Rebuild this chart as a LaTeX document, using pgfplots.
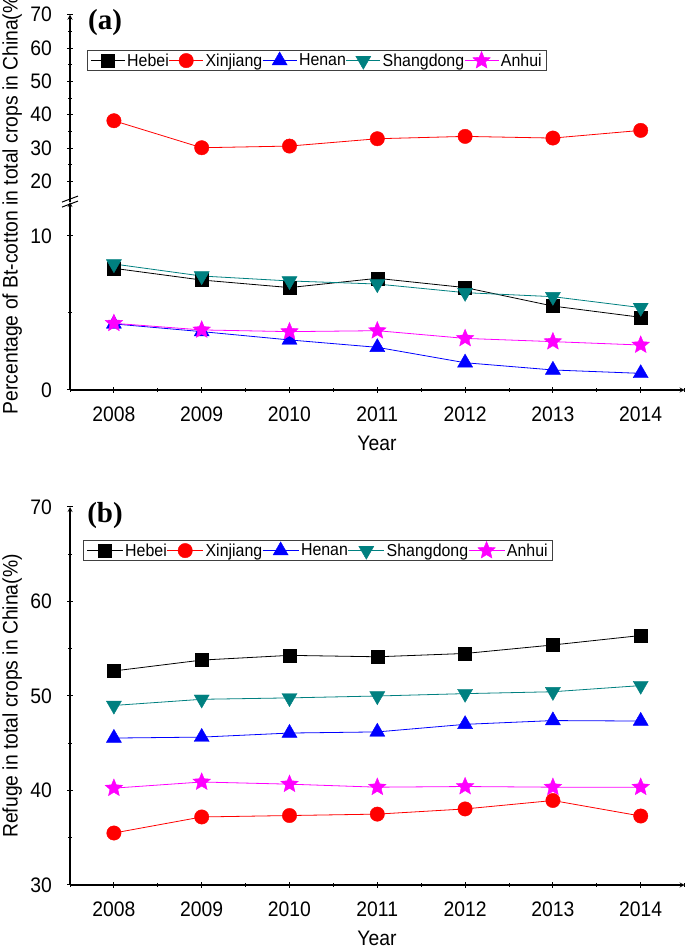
\documentclass[border=0pt]{standalone}
\usepackage{fontspec}
\setmainfont{Liberation Sans}[FakeStretch=0.92]
\newfontfamily\serifbf{Liberation Serif}
\usepackage{pgfplots}
\pgfplotsset{compat=1.18}
\definecolor{tealc}{RGB}{0,128,128}
\definecolor{magc}{RGB}{255,0,255}
\pgfdeclareplotmark{fstar}{%
 \pgfpathmoveto{\pgfpointpolar{90}{\pgfplotmarksize}}%
 \pgfpathlineto{\pgfpointpolar{126}{0.45\pgfplotmarksize}}%
 \pgfpathlineto{\pgfpointpolar{162}{\pgfplotmarksize}}%
 \pgfpathlineto{\pgfpointpolar{198}{0.45\pgfplotmarksize}}%
 \pgfpathlineto{\pgfpointpolar{234}{\pgfplotmarksize}}%
 \pgfpathlineto{\pgfpointpolar{270}{0.45\pgfplotmarksize}}%
 \pgfpathlineto{\pgfpointpolar{306}{\pgfplotmarksize}}%
 \pgfpathlineto{\pgfpointpolar{342}{0.45\pgfplotmarksize}}%
 \pgfpathlineto{\pgfpointpolar{18}{\pgfplotmarksize}}%
 \pgfpathlineto{\pgfpointpolar{54}{0.45\pgfplotmarksize}}%
 \pgfpathclose
 \pgfusepathqfillstroke
}
\pgfplotsset{
 sHebei/.style={black, line width=0.8bp, mark=square*, mark size=6.5bp, mark options={solid, fill=black, line width=0.4bp}},
 sXin/.style={red, line width=0.8bp, mark=*, mark size=7.2bp, mark options={solid, fill=red, line width=0.4bp}},
 sHenan/.style={blue, line width=0.8bp, mark=triangle*, mark size=8.7bp, mark options={solid, fill=blue, line width=0.4bp}},
 sShan/.style={tealc, line width=0.8bp, mark=triangle*, mark size=8.7bp, mark options={solid, fill=tealc, rotate=180, line width=0.4bp}},
 sAnh/.style={magc, line width=0.8bp, mark=fstar, mark size=9.2bp, mark options={solid, fill=magc, line width=0.4bp}},
 base/.style={
  scale only axis, width=614.6bp, xmin=2007.5, xmax=2014.5,
  tick align=outside, major tick length=6bp, minor tick length=3.5bp,
  every tick/.append style={black, line width=1bp},
  axis line style={black, line width=1.2bp, -},
  /pgf/number format/assume math mode=true,
  /pgf/number format/1000 sep={},
  tick label style={font=\fontsize{21bp}{24bp}\selectfont, black},
  yticklabel style={anchor=east, inner sep=0pt, xshift=-15bp},
  xticklabel style={anchor=base, inner sep=0pt, yshift=-29bp},
  xtick={2008,...,2014},
  minor xtick={2007.5,2008.5,...,2014.5},
  legend columns=-1,
  legend style={anchor=north west, draw=black!75, line width=0.8bp, fill=white,
    inner xsep=3bp, inner ysep=1bp, font=\fontsize{17.3bp}{19bp}\selectfont,
    nodes={inner xsep=2bp, inner ysep=0.8bp},
    /tikz/every even column/.style={column sep=-2bp}},
  legend image code/.code={\draw[mark repeat=2,mark phase=2,#1] plot coordinates {(0bp,0bp) (17bp,0bp) (34bp,0bp)};},
 },
}
\begin{document}
\begin{tikzpicture}[x=1bp,y=1bp]
\useasboundingbox (0bp,0bp) rectangle (685bp,947bp);
% ---------- panel (a), lower part ----------
\begin{axis}[base, at={(70bp,557bp)}, anchor=south west, height=187.9bp,
  axis x line=bottom, axis y line=left,
  ymin=0, ymax=12.2, ytick={0,10}, minor ytick={5}]
\addplot[sHebei] coordinates {(2008,7.9) (2009,7.14) (2010,6.65) (2011,7.25) (2012,6.65) (2013,5.45) (2014,4.72)};
\addplot[sShan] coordinates {(2008,8.18) (2009,7.4) (2010,7.08) (2011,6.88) (2012,6.32) (2013,6.06) (2014,5.35)};
\addplot[sHenan] coordinates {(2008,4.29) (2009,3.79) (2010,3.25) (2011,2.77) (2012,1.77) (2013,1.3) (2014,1.08)};
\addplot[sAnh] coordinates {(2008,4.33) (2009,3.9) (2010,3.79) (2011,3.85) (2012,3.35) (2013,3.14) (2014,2.92)};
\end{axis}
% ---------- panel (a), upper part ----------
\begin{axis}[base, at={(70bp,744.9bp)}, anchor=south west, height=187.4bp,
  axis x line=none, axis y line=left, xtick=\empty, minor xtick={},
  ymin=13.8, ymax=70, ytick={20,30,...,70}, minor ytick={25,35,...,65},
  legend style={at={(0.0277,0.8116)}}]
\addlegendimage{sHebei}\addlegendentry{Hebei}
\addplot[sXin] coordinates {(2008,38.2) (2009,30.1) (2010,30.6) (2011,32.8) (2012,33.5) (2013,33.0) (2014,35.3)};
\addlegendentry{Xinjiang}
\addlegendimage{sHenan}\addlegendentry{Henan}
\addlegendimage{sShan}\addlegendentry{Shangdong}
\addlegendimage{sAnh}\addlegendentry{Anhui}
\end{axis}
% axis break marks
\draw[black, line width=1bp] (62bp,739.9bp) -- (78bp,745.9bp);
\draw[black, line width=1bp] (62bp,744.9bp) -- (78bp,750.9bp);
\node[font=\serifbf\bfseries\fontsize{29bp}{31bp}\selectfont] at (105bp,924bp) {(a)};
\node[rotate=90, anchor=base, font=\fontsize{21bp}{24bp}\selectfont] at (17.5bp,745bp) {Percentage of Bt-cotton in total crops in China(\%)};
\node[anchor=base, font=\fontsize{21bp}{24bp}\selectfont] at (377bp,496bp) {Year};
% ---------- panel (b) ----------
\begin{axis}[base, at={(70bp,62bp)}, anchor=south west, height=378bp,
  axis x line=bottom, axis y line=left,
  ymin=30, ymax=70, ytick={30,40,...,70}, minor ytick={35,45,...,65},
  legend style={at={(0.0212,0.9127)}},
  legend image code/.code={\draw[mark repeat=2,mark phase=2,#1] plot coordinates {(0bp,0bp) (18bp,0bp) (36bp,0bp)};}]
\addplot[sHebei] coordinates {(2008,52.65) (2009,53.8) (2010,54.3) (2011,54.15) (2012,54.5) (2013,55.4) (2014,56.4)};
\addlegendentry{Hebei}
\addplot[sXin] coordinates {(2008,35.5) (2009,37.2) (2010,37.35) (2011,37.5) (2012,38.05) (2013,38.94) (2014,37.3)};
\addlegendentry{Xinjiang}
\addplot[sHenan] coordinates {(2008,45.55) (2009,45.65) (2010,46.08) (2011,46.2) (2012,47.0) (2013,47.4) (2014,47.35)};
\addlegendentry{Henan}
\addplot[sShan] coordinates {(2008,49.0) (2009,49.65) (2010,49.8) (2011,50.0) (2012,50.25) (2013,50.45) (2014,51.1)};
\addlegendentry{Shangdong}
\addplot[sAnh] coordinates {(2008,40.25) (2009,40.9) (2010,40.67) (2011,40.35) (2012,40.42) (2013,40.35) (2014,40.35)};
\addlegendentry{Anhui}
\end{axis}
\node[font=\serifbf\bfseries\fontsize{29bp}{31bp}\selectfont] at (105bp,431bp) {(b)};
\node[rotate=90, anchor=base, font=\fontsize{21bp}{24bp}\selectfont] at (17.5bp,251bp) {Refuge in total crops in China(\%)};
\node[anchor=base, font=\fontsize{21bp}{24bp}\selectfont] at (377bp,2bp) {Year};
\end{tikzpicture}
\end{document}
